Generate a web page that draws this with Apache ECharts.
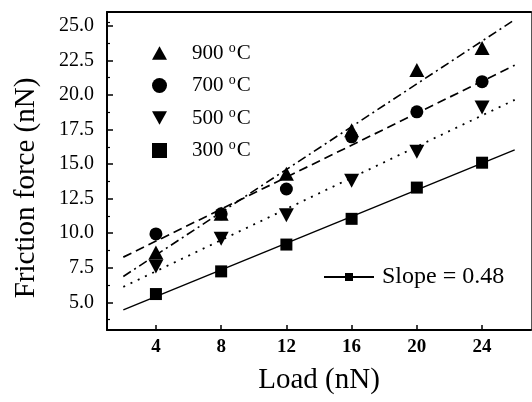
<!DOCTYPE html>
<html><head><meta charset="utf-8">
<script src="https://cdn.jsdelivr.net/npm/echarts@6/dist/echarts.min.js"></script>
<style>html,body{margin:0;padding:0;background:#fff}#c{width:532px;height:402px}</style>
</head><body><div id="c"></div>
<script>
const loads = [4, 8, 12, 16, 20, 24];
const f900 = [8.6, 11.4, 14.3, 17.45, 21.8, 23.4];
const f700 = [9.95, 11.4, 13.2, 16.97, 18.78, 20.96];
const f500 = [7.6, 9.6, 11.3, 13.8, 15.9, 19.1];
const f300 = [5.6, 7.24, 9.18, 11.04, 13.3, 15.1];
const fitRange = [2, 26];
const seriesNames = ['900 °C', '700 °C', '500 °C', '300 °C'];
const slopeLabel = 'Slope = 0.48';
const xTicks = [4, 8, 12, 16, 20, 24];
const yTicks = [5, 7.5, 10, 12.5, 15, 17.5, 20, 22.5, 25];
const yMinorTicks = [3.75, 6.25, 8.75, 11.25, 13.75, 16.25, 18.75, 21.25, 23.75, 25.25];

function pairs(ys){ return loads.map((x,i)=>[x, ys[i]]); }
function fit(ys){
  const n = loads.length;
  const mx = loads.reduce((a,b)=>a+b,0)/n, my = ys.reduce((a,b)=>a+b,0)/n;
  let sxy=0, sxx=0;
  for(let i=0;i<n;i++){ sxy += (loads[i]-mx)*(ys[i]-my); sxx += (loads[i]-mx)**2; }
  const k = sxy/sxx, b = my - k*mx;
  return fitRange.map(x=>[x, k*x+b]);
}
const FONT = 'Liberation Serif';
const DOWN_TRI = 'path://M0,0 L10,0 L5,9 Z';
const UP_TRI = 'path://M5,0 L10,9 L0,9 Z';
const chart = echarts.init(document.getElementById('c'), null, {renderer:'canvas'});
const legendFmt = n => { const m = n.match(/^(\d+) °C$/); return m ? m[1] + ' {sup|o}C' : n; };
const axisLineStyle = {color:'#000', width:2};
const solid = {color:'#000', opacity:1};
chart.setOption({
  animation:false,
  backgroundColor:'#fff',
  grid:{left:107, top:12, right:1, bottom:72, containLabel:false},
  legend:[{
    data: seriesNames, orient:'vertical', left:147, top:36, itemGap:10,
    itemWidth:15, itemHeight:15, formatter: legendFmt,
    textStyle:{fontFamily:FONT, fontSize:21, color:'#000', padding:[0,0,0,20],
      rich:{sup:{fontFamily:FONT, fontSize:14, color:'#000', padding:[0,1,10,0]}}}
  },{
    data:[slopeLabel], left:318, top:260, itemWidth:50, itemHeight:10,
    textStyle:{fontFamily:FONT, fontSize:24, color:'#000', padding:[0,0,0,3]}
  }],
  xAxis:[{
    type:'value', min:1, max:27,
    axisLine:{show:true, onZero:false, lineStyle:axisLineStyle},
    axisTick:{show:true, inside:true, length:5, customValues:xTicks, lineStyle:{color:'#000', width:1.5}},
    axisLabel:{customValues:xTicks, fontFamily:FONT, fontSize:19, fontWeight:'bold', color:'#000', margin:8},
    splitLine:{show:false},
    name:'Load (nN)', nameLocation:'middle', nameGap:36,
    nameTextStyle:{fontFamily:FONT, fontSize:29, color:'#000'}
  },{
    type:'value', min:1, max:27, position:'top',
    axisLine:{show:true, onZero:false, lineStyle:axisLineStyle},
    axisTick:{show:false}, axisLabel:{show:false}, splitLine:{show:false}
  }],
  yAxis:[{
    type:'value', min:3, max:26,
    axisLine:{show:true, onZero:false, lineStyle:axisLineStyle},
    axisTick:{show:true, inside:true, length:6, customValues:yTicks, lineStyle:{color:'#000', width:1.5}},
    axisLabel:{customValues:yTicks, formatter:v=>v.toFixed(1), fontFamily:FONT, fontSize:20, color:'#000', margin:13},
    splitLine:{show:false},
    name:'Friction force (nN)', nameLocation:'middle', nameRotate:90, nameGap:66,
    nameTextStyle:{fontFamily:FONT, fontSize:29, color:'#000', padding:[0,34,0,0]}
  },{
    type:'value', min:3, max:26, position:'left',
    axisLine:{show:false},
    axisTick:{show:true, inside:true, length:3, customValues:yMinorTicks, lineStyle:{color:'#000', width:1.2}},
    axisLabel:{show:false}, splitLine:{show:false}
  },{
    type:'value', min:3, max:26, position:'right',
    axisLine:{show:true, onZero:false, lineStyle:{color:'#555', width:1}},
    axisTick:{show:false}, axisLabel:{show:false}, splitLine:{show:false}
  }],
  series:[
    {name:seriesNames[0], type:'scatter', symbol:UP_TRI, symbolSize:[15,14], data:pairs(f900), itemStyle:solid, z:5},
    {name:seriesNames[1], type:'scatter', symbol:'circle', symbolSize:13, data:pairs(f700), itemStyle:solid, z:5},
    {name:seriesNames[2], type:'scatter', symbol:DOWN_TRI, symbolSize:[15,14], data:pairs(f500), itemStyle:solid, z:5},
    {name:seriesNames[3], type:'scatter', symbol:'rect', symbolSize:12, data:pairs(f300), itemStyle:solid, z:5},
    {name:'fit900', type:'line', showSymbol:false, symbol:'none', data:fit(f900), lineStyle:{color:'#000', width:1.6, type:[9,4,2,4]}},
    {name:'fit700', type:'line', showSymbol:false, symbol:'none', data:fit(f700), lineStyle:{color:'#000', width:1.7, type:[9,5]}},
    {name:'fit500', type:'line', showSymbol:false, symbol:'none', data:fit(f500), lineStyle:{color:'#000', width:1.8, type:[2,6]}},
    {name:slopeLabel, type:'line', showSymbol:false, symbol:'rect', symbolSize:10, data:fit(f300), lineStyle:{color:'#000', width:1.4}, itemStyle:{color:'#000'}}
  ]
});
</script></body></html>
